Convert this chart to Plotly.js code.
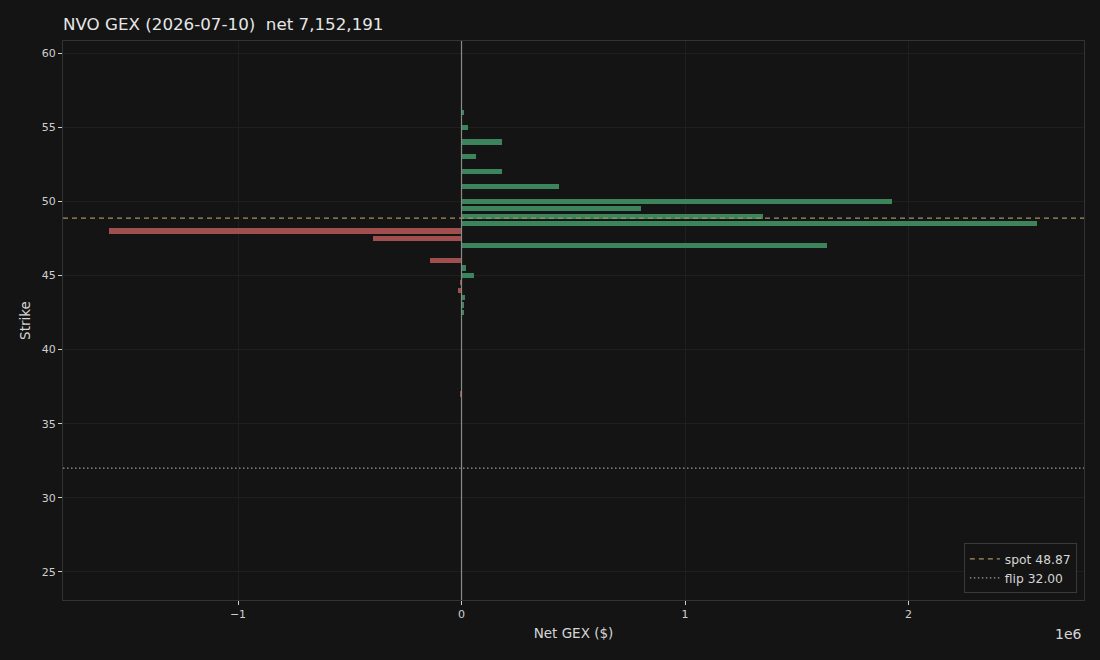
<!DOCTYPE html>
<html>
<head>
<meta charset="utf-8">
<script src="https://cdn.plot.ly/plotly-3.0.1.min.js"></script>
<style>html,body{margin:0;padding:0;background:#141414;}#chart{width:1100px;height:660px;}</style>
</head>
<body>
<div id="chart"></div>
<script>
// Strikes and net GEX ($)
const strikes = [56, 55, 54, 53, 52, 51, 50, 49.5, 49, 48.5, 48, 47.5, 47, 46.5, 46, 45.5, 45, 44.5, 44, 43.5, 43, 42.5, 41.5, 39, 37];
const netGex  = [13000, 27000, 183000, 63000, 183000, 434000, 1924000, 805000, 1347000, 2573000, -1579000, -394000, 1633000, -4000, -143000, 22000, 58000, -5000, -14000, 17000, 9000, 13000, 1000, -4000, -9000];
const spot = 48.87;
const flip = 32.00;
const netTotal = 7152191;
const xRange = [-1.783e6, 2.785e6];
const yRange = [23.11, 60.81];
const xTickVals = [-1e6, 0, 1e6, 2e6];
const xTickText = ['\u22121', '0', '1', '2'];
const yTickVals = [25, 30, 35, 40, 45, 50, 55, 60];

const green = '#3f8a5f';
const red = '#a85252';
const barColors = netGex.map(v => v >= 0 ? green : red);

const fmt = n => n.toLocaleString('en-US');

const traces = [
  {
    type: 'bar', orientation: 'h', x: netGex, y: strikes, width: 0.35,
    marker: {color: barColors, line: {width: 0}}, opacity: 0.95, showlegend: false,
    hoverinfo: 'x+y'
  },
  {
    type: 'scatter', mode: 'lines', x: xRange, y: [spot, spot],
    line: {color: '#a89060', width: 1.3, dash: '5px,4px'},
    name: 'spot ' + spot.toFixed(2)
  },
  {
    type: 'scatter', mode: 'lines', x: xRange, y: [flip, flip],
    line: {color: '#9a9a9a', width: 1.3, dash: '1.5px,2.5px'},
    name: 'flip ' + flip.toFixed(2)
  }
];

const axisFont = {family: 'DejaVu Sans', size: 11, color: '#cfcfcf'};
const labelFont = {family: 'DejaVu Sans', size: 13.5, color: '#d6d6d6'};
const layout = {
  width: 1100, height: 660,
  paper_bgcolor: '#141414', plot_bgcolor: '#141414',
  margin: {l: 63, r: 16, t: 41, b: 60},
  font: {family: 'DejaVu Sans', color: '#d0d0d0', size: 11},
  title: {
    text: 'NVO GEX (2026-07-10)  net ' + fmt(netTotal),
    x: 63/1100, xref: 'container', xanchor: 'left',
    y: 1 - 24/660, yref: 'container', yanchor: 'middle',
    font: {family: 'DejaVu Sans', size: 16.7, color: '#e6e6e6'}
  },
  xaxis: {
    range: xRange, tickvals: xTickVals, ticktext: xTickText,
    showgrid: true, gridcolor: '#1f1f1f', gridwidth: 1, zeroline: false,
    ticks: 'outside', ticklen: 4, tickcolor: '#cfcfcf', tickwidth: 1,
    tickfont: axisFont, showline: true, linecolor: '#333333', mirror: true,
    title: {text: 'Net GEX ($)', font: labelFont, standoff: 8}
  },
  yaxis: {
    range: yRange, tickvals: yTickVals,
    showgrid: true, gridcolor: '#1f1f1f', gridwidth: 1, zeroline: false,
    ticks: 'outside', ticklen: 4, tickcolor: '#cfcfcf', tickwidth: 1,
    tickfont: axisFont, showline: true, linecolor: '#333333', mirror: true,
    title: {text: 'Strike', font: labelFont, standoff: 8}
  },
  shapes: [
    {type: 'line', xref: 'x', yref: 'paper', x0: 0, x1: 0, y0: 0, y1: 1,
     line: {color: '#8a8a8a', width: 1.2}, layer: 'above'}
  ],
  annotations: [
    {text: '1e6', xref: 'paper', yref: 'paper', x: 1, y: 0, xanchor: 'right', yanchor: 'top',
     yshift: -24, showarrow: false, font: {family: 'DejaVu Sans', size: 14, color: '#d6d6d6'}}
  ],
  legend: {
    x: 0.993, y: 0.012, xanchor: 'right', yanchor: 'bottom',
    bgcolor: '#141414', bordercolor: '#3a3a3a', borderwidth: 1,
    font: {family: 'DejaVu Sans', size: 12.3, color: '#d6d6d6'},
    itemwidth: 30, tracegroupgap: 2
  },
  bargap: 0
};

Plotly.newPlot('chart', traces, layout, {displayModeBar: false, staticPlot: true});
</script>
</body>
</html>
